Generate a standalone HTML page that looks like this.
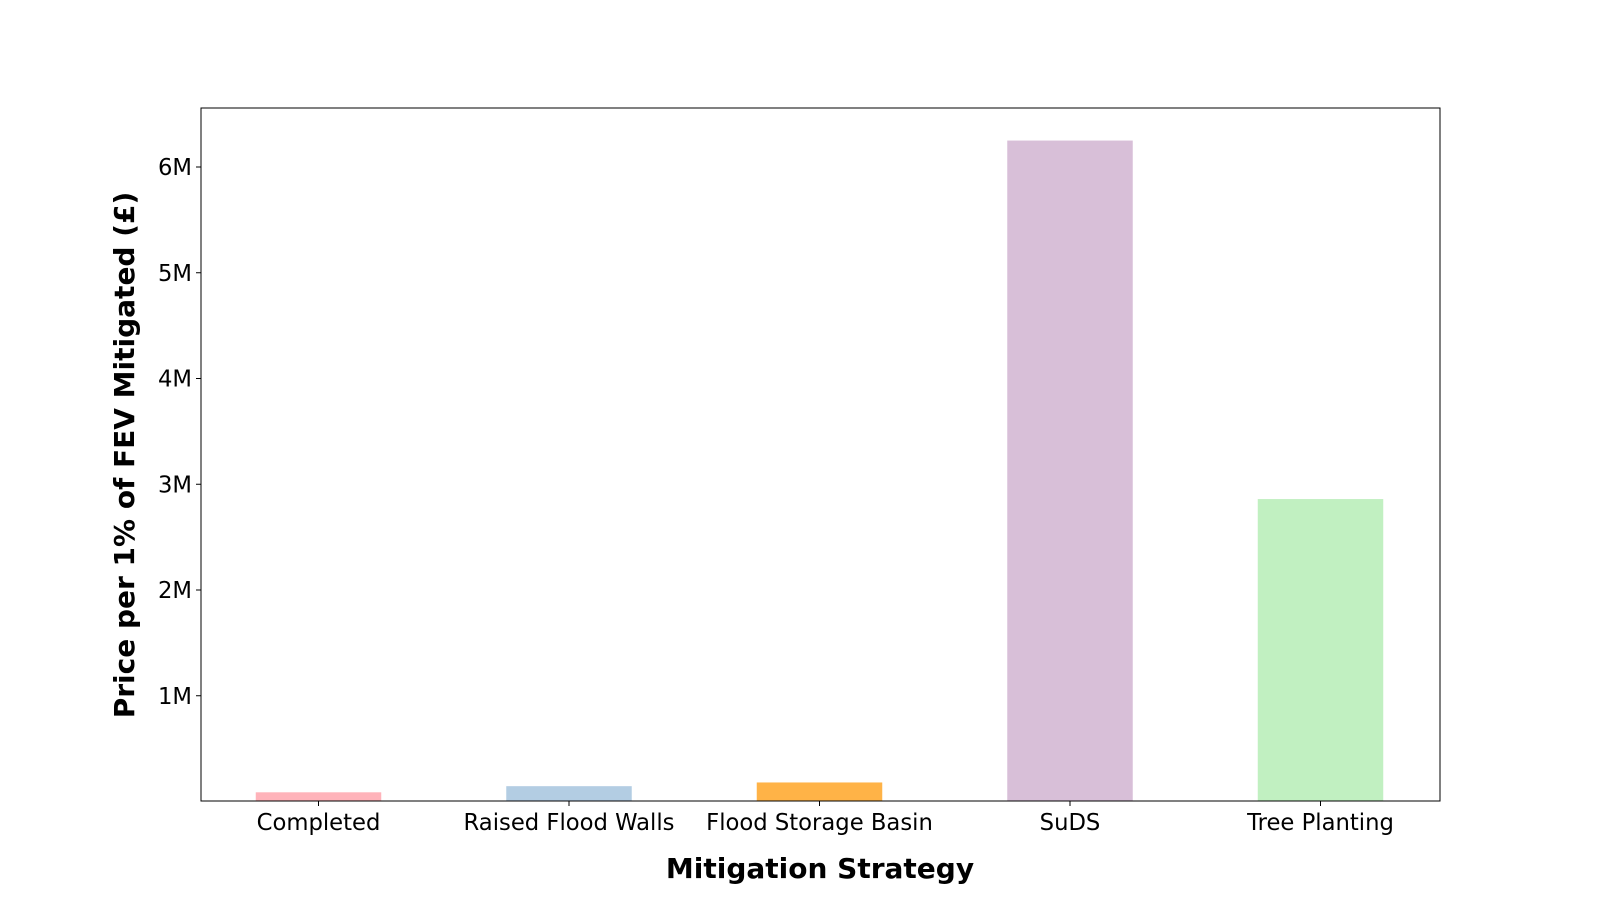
<!DOCTYPE html>
<html><head><meta charset="utf-8"><style>
body{margin:0;background:#fff;}
svg{display:block;font-family:"DejaVu Sans","Liberation Sans",sans-serif;}
</style></head><body>
<svg id="chart" width="1600" height="900"></svg>
<script>
const categories=["Completed","Raised Flood Walls","Flood Storage Basin","SuDS","Tree Planting"];
const values=[0.087,0.145,0.18,6.25,2.86];
const colors=["#ffb3ba","#b3cde3","#ffb347","#d8bfd8","#c1f0c1"];
const yTicks=[1,2,3,4,5,6];
const yTickLabels=["1M","2M","3M","4M","5M","6M"];
const NS="http://www.w3.org/2000/svg";
const svg=document.getElementById('chart');
const L=201,R=1440,T=108,B=801;
const y=v=>801.5-v*105.75;
const x=i=>318.5+i*250.5;
const bw=125.5;
function mk(t,a){const e=document.createElementNS(NS,t);for(const k in a)e.setAttribute(k,a[k]);svg.appendChild(e);return e;}
categories.forEach((c,i)=>{
 const r=mk('rect',{x:x(i)-bw/2,y:y(values[i]),width:bw,height:B-y(values[i]),fill:colors[i]});
 
 
 mk('line',{x1:x(i),x2:x(i),y1:B,y2:B+5,stroke:'#000','stroke-width':1});
 const t=mk('text',{x:x(i),y:830,'font-size':22.7,'text-anchor':'middle',fill:'#000'});
 t.textContent=c;
 
 
});
yTicks.forEach((v,i)=>{
 mk('line',{x1:L-5,x2:L,y1:y(v),y2:y(v),stroke:'#000','stroke-width':1});
 const t=mk('text',{x:L-9,y:y(v)+8,'font-size':22.7,'text-anchor':'end',fill:'#000'});
 t.textContent=yTickLabels[i];
 
 
});
const f=mk('rect',{x:L,y:T,width:R-L,height:B-T,fill:'none',stroke:'#000','stroke-width':1});


const xt=mk('text',{x:820,y:878,'font-size':28,'font-weight':'bold','text-anchor':'middle'});
xt.textContent='Mitigation Strategy';


const yt=mk('text',{x:0,y:0,'font-size':28,'font-weight':'bold','text-anchor':'middle',transform:'translate(134,455) rotate(-90)'});
yt.textContent='Price per 1% of FEV Mitigated (£)';


</script>
</body></html>
